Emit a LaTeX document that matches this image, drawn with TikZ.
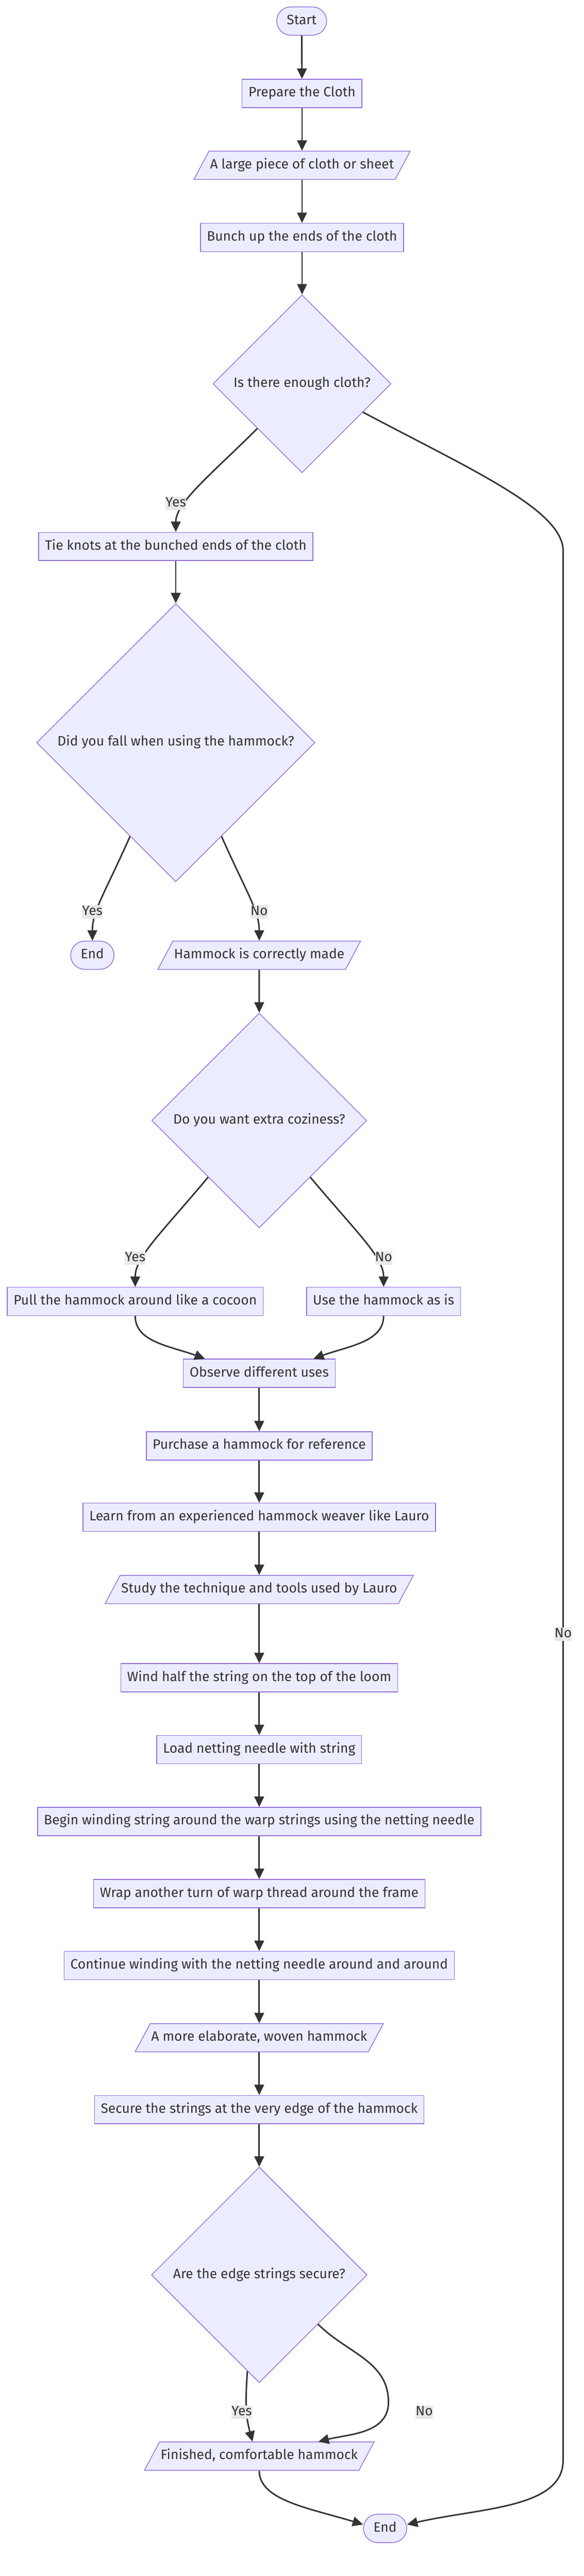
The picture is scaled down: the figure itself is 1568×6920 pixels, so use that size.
\documentclass[tikz,border=0pt]{standalone}
\usepackage{fontspec}
\setmainfont{Fira Sans}
\usetikzlibrary{shapes.geometric,arrows.meta,calc}
\definecolor{boxfill}{HTML}{ECECFF}
\definecolor{boxline}{HTML}{9370DB}
\definecolor{ink}{HTML}{333333}
\definecolor{lblfill}{HTML}{E8E8E8}
\tikzset{
	base/.style={draw=boxline,fill=boxfill,line width=2pt,text=ink,font=\fontsize{36.5}{44}\selectfont,text height=27pt,text depth=9pt},
	process/.style={base,rectangle,inner xsep=17pt,inner ysep=20pt},
	terminal/.style={base,rectangle,rounded corners=38pt,inner xsep=27pt,inner ysep=20pt},
	data/.style={base,trapezium,trapezium left angle=62,trapezium right angle=118,inner xsep=3pt,inner ysep=20pt},
	decision/.style={base,diamond,aspect=1,inner sep=0pt},
	flow/.style={draw=ink,line width=4pt,-{Triangle[length=28pt,width=26pt]}},
	answer/.style={fill=lblfill,text=ink,font=\fontsize{36.5}{44}\selectfont,inner sep=0pt,text height=27pt,text depth=9pt}
}
\begin{document}
\begin{tikzpicture}[x=1pt,y=1pt]
		\fill[white] (0,0) rectangle (1568,-6920);
		\node[terminal] (start) at (810,-56.5) {Start};
		\node[process] (prep) at (811,-251) {Prepare the Cloth};
		\node[data] (cloth) at (811,-444) {A large piece of cloth or sheet};
		\node[process] (bunch) at (811,-638) {Bunch up the ends of the cloth};
		\node[decision,minimum size=478pt] (enough) at (811,-1031) {Is there enough cloth?};
		\node[process] (knots) at (472,-1468) {Tie knots at the bunched ends of the cloth};
		\node[decision,minimum size=747pt] (fall) at (472,-1995) {Did you fall when using the hammock?};
		\node[terminal] (endA) at (248,-2566) {End};
		\node[data] (made) at (696,-2566) {Hammock is correctly made};
		\node[decision,minimum size=577pt] (cozy) at (696,-3010) {Do you want extra coziness?};
		\node[process] (pull) at (363,-3496) {Pull the hammock around like a cocoon};
		\node[process] (asis) at (1030,-3496) {Use the hammock as is};
		\node[process] (observe) at (696,-3689) {Observe different uses};
		\node[process] (purchase) at (696,-3884) {Purchase a hammock for reference};
		\node[process] (learn) at (696,-4076) {Learn from an experienced hammock weaver like Lauro};
		\node[data] (study) at (696,-4270) {Study the technique and tools used by Lauro};
		\node[process] (wind) at (696,-4507) {Wind half the string on the top of the loom};
		\node[process] (load) at (696,-4700) {Load netting needle with string};
		\node[process] (begin) at (696,-4893) {Begin winding string around the warp strings using the netting needle};
		\node[process] (wrap) at (696,-5087) {Wrap another turn of warp thread around the frame};
		\node[process] (cont) at (696,-5280) {Continue winding with the netting needle around and around};
		\node[data] (woven) at (696,-5474) {A more elaborate, woven hammock};
		\node[process] (secure) at (696,-5667) {Secure the strings at the very edge of the hammock};
		\node[decision,minimum size=579pt] (edges) at (696,-6111) {Are the edge strings secure?};
		\node[data] (done) at (696,-6598) {Finished, comfortable hammock};
		\node[terminal] (endB) at (1034,-6792) {End};
		% bends of the long No line and of the last No loop
		\coordinate (noTop) at (1512,-1480);
		\coordinate (noBot) at (1512,-6609);
		\coordinate (loopNo) at (1043,-6453);
		% straight steps
		\draw[flow] (start) -- (prep);
		\draw[flow] (prep) -- (cloth);
		\draw[flow] (cloth) -- (bunch);
		\draw[flow] (bunch) -- (enough);
		\draw[flow] (knots) -- (fall);
		\draw[flow] (made) -- (cozy);
		\draw[flow] (observe) -- (purchase);
		\draw[flow] (purchase) -- (learn);
		\draw[flow] (learn) -- (study);
		\draw[flow] (study) -- (wind);
		\draw[flow] (wind) -- (load);
		\draw[flow] (load) -- (begin);
		\draw[flow] (begin) -- (wrap);
		\draw[flow] (wrap) -- (cont);
		\draw[flow] (cont) -- (woven);
		\draw[flow] (woven) -- (secure);
		\draw[flow] (secure) -- (edges);
		% branches
		\draw[flow] (enough.south west) .. controls +(-135:170) and +(90:80) .. (knots.north);
		\draw[flow] (enough.-25) .. controls +(-28:330) and +(90:110) .. (noTop) -- (noBot)
			.. controls +(-90:130) and +(13:200) .. (endB.10);
		\draw[flow] (fall.-116) .. controls +(-114:170) and +(90:80) .. (endA.north);
		\draw[flow] (fall.-64) .. controls +(-66:170) and +(90:80) .. (made.north);
		\draw[flow] (cozy.-132) .. controls +(-130:200) and +(90:80) .. (pull.north);
		\draw[flow] (cozy.-48) .. controls +(-50:200) and +(90:80) .. (asis.north);
		\draw[flow] (pull.south) .. controls +(-90:70) and +(160:100) .. (observe.165);
		\draw[flow] (asis.south) .. controls +(-90:70) and +(20:100) .. (observe.15);
		\draw[flow] (edges.-97) .. controls +(-94:90) and +(105:70) .. ($(done.north)+(-18,0)$);
		\draw[flow] (edges.-40) to[out=-45,in=90] (loopNo) to[out=-90,in=14] ($(done.north)+(159,0)$);
		\draw[flow] (done.south) .. controls +(-90:80) and +(163:150) .. (endB.170);
		% answers
		\node[answer] (yesA) at (472,-1352) {Yes};
		\node[answer] (noA) at (1512,-4390) {No};
		\node[answer] (yesB) at (248,-2449) {Yes};
		\node[answer] (noB) at (696,-2449) {No};
		\node[answer] (yesC) at (363,-3379) {Yes};
		\node[answer] (noC) at (1030,-3379) {No};
		\node[answer] (yesD) at (649,-6480) {Yes};
		\node[answer] (noD) at (1139,-6480) {No};
	\end{tikzpicture}
\end{document}
